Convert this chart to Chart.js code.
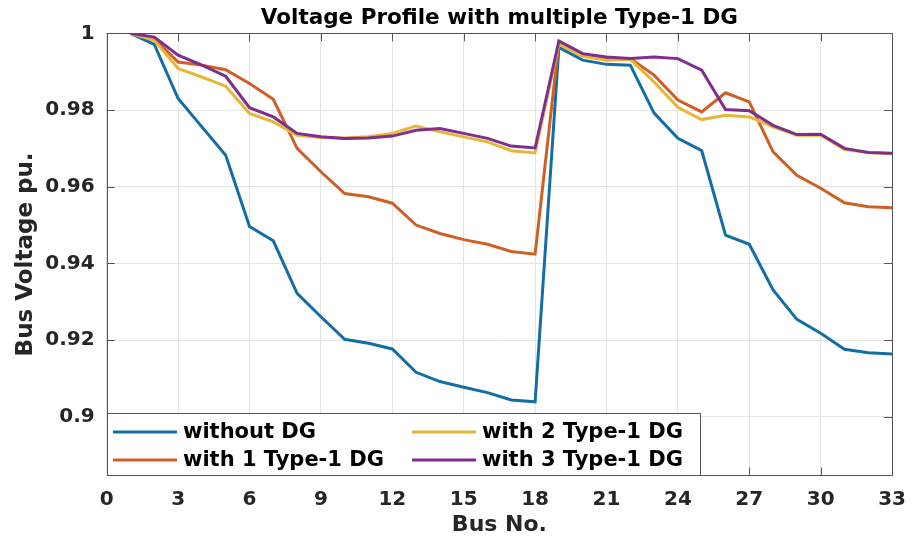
<!DOCTYPE html>
<html>
<head>
<meta charset="utf-8">
<script src="https://cdn.jsdelivr.net/npm/chart.js@4.4.1/dist/chart.umd.min.js"></script>
<style>
  html, body { margin: 0; padding: 0; background: #fff; }
  #wrap { width: 918px; height: 537px; position: relative; }
</style>
</head>
<body>
<div id="wrap"><canvas id="vp"></canvas></div>
<script>
// ===== DATA =====
const BUSES = [1, 2, 3, 4, 5, 6, 7, 8, 9, 10, 11, 12, 13, 14, 15, 16, 17,
  18, 19, 20, 21, 22, 23, 24, 25, 26, 27, 28, 29, 30, 31, 32, 33];

const WITHOUT_DG = [1.0, 0.9971, 0.983, 0.9756, 0.9682, 0.9496, 0.9459, 0.9322, 0.9261,
  0.9202, 0.9192, 0.9177, 0.9116, 0.9092, 0.9077, 0.9063, 0.9044, 0.9039,
  0.9963, 0.993, 0.9919, 0.9917, 0.9792, 0.9726, 0.9694, 0.9474, 0.945,
  0.9331, 0.9254, 0.9218, 0.9176, 0.9167, 0.9164];

const ONE_DG = [1.0, 0.9986, 0.9925, 0.9917, 0.9905, 0.9869, 0.9828, 0.970, 0.9639,
  0.9582, 0.9574, 0.9557, 0.950, 0.9478, 0.9462, 0.945, 0.9431, 0.9424,
  0.9977, 0.9945, 0.9935, 0.9934, 0.9891, 0.9826, 0.9795, 0.9845, 0.9821,
  0.9691, 0.963, 0.9596, 0.9558, 0.9548, 0.9545];

const TWO_DG = [1.0, 0.9982, 0.9908, 0.9886, 0.9862, 0.9791, 0.9769, 0.9734, 0.9728,
  0.9727, 0.973, 0.9739, 0.9758, 0.9743, 0.973, 0.9717, 0.9694, 0.9688,
  0.9972, 0.994, 0.993, 0.9932, 0.9873, 0.9807, 0.9775, 0.9786, 0.9782,
  0.9756, 0.9734, 0.9734, 0.9697, 0.9689, 0.9686];

const THREE_DG = [1.0, 0.999, 0.9943, 0.9917, 0.9888, 0.9806, 0.9782, 0.9739, 0.973,
  0.9726, 0.9727, 0.9732, 0.9747, 0.9752, 0.9739, 0.9726, 0.9706, 0.9701,
  0.998, 0.9947, 0.9938, 0.9934, 0.9938, 0.9934, 0.9904, 0.9801, 0.9798,
  0.976, 0.9736, 0.9737, 0.970, 0.9689, 0.9687];

const SERIES_NAMES = ['without DG', 'with 1 Type-1 DG', 'with 2 Type-1 DG', 'with 3 Type-1 DG'];
const X_TICKS = [0, 3, 6, 9, 12, 15, 18, 21, 24, 27, 30, 33];
const Y_TICKS = [0.9, 0.92, 0.94, 0.96, 0.98, 1.0];

const COLORS = ['#136ea6', '#cf5f27', '#e9b535', '#7e2f8e'];
const FONT = '"DejaVu Sans", sans-serif';

const toPts = vals => BUSES.map((b, i) => ({ x: b, y: vals[i] }));

// box + inward ticks on all four sides, like matlab "box on"
const boxPlugin = {
  id: 'box',
  afterDatasetsDraw(chart) {
    const { ctx, chartArea: a, scales } = chart;
    ctx.save();
    ctx.strokeStyle = '#555';
    ctx.lineWidth = 1;
    ctx.beginPath();
    const len = 8;
    X_TICKS.forEach(v => {
      const px = Math.round(scales.x.getPixelForValue(v)) + 0.5;
      ctx.moveTo(px, a.bottom); ctx.lineTo(px, a.bottom - len);
      ctx.moveTo(px, a.top); ctx.lineTo(px, a.top + len);
    });
    Y_TICKS.forEach(v => {
      const py = Math.round(scales.y.getPixelForValue(v)) + 0.5;
      ctx.moveTo(a.left, py); ctx.lineTo(a.left + len, py);
      ctx.moveTo(a.right, py); ctx.lineTo(a.right - len, py);
    });
    ctx.stroke();
    ctx.strokeRect(Math.round(a.left) + 0.5, Math.round(a.top) + 0.5,
      Math.round(a.right - a.left), Math.round(a.bottom - a.top));
    ctx.restore();
  },
};

// legend box sitting inside the plot, bottom-left, 2 columns
const legendPlugin = {
  id: 'insideLegend',
  afterDraw(chart) {
    const { ctx, chartArea: a } = chart;
    const ds = chart.data.datasets;
    const top = 413.5, right = 700;
    ctx.save();
    ctx.fillStyle = '#fff';
    ctx.fillRect(a.left, top, right - a.left, a.bottom - top);
    ctx.strokeStyle = '#555';
    ctx.lineWidth = 1;
    ctx.strokeRect(Math.round(a.left) + 0.5, top, right - Math.round(a.left), a.bottom - top);
    ctx.font = 'bold 21px ' + FONT;
    ctx.textBaseline = 'middle';
    const cols = [113, 412];
    const rows = [432, 460];
    // column-major like matlab NumColumns = 2
    ds.forEach((d, i) => {
      const cx = cols[Math.floor(i / 2)], cy = rows[i % 2];
      ctx.strokeStyle = d.borderColor;
      ctx.lineWidth = 3;
      ctx.beginPath();
      ctx.moveTo(cx, cy); ctx.lineTo(cx + 64, cy);
      ctx.stroke();
      ctx.fillStyle = '#000';
      ctx.fillText(d.label, cx + 70, cy + 1);
    });
    ctx.restore();
  },
};

new Chart(document.getElementById('vp'), {
  type: 'line',
  data: {
    datasets: [WITHOUT_DG, ONE_DG, TWO_DG, THREE_DG].map((vals, i) => ({
      label: SERIES_NAMES[i],
      data: toPts(vals),
      borderColor: COLORS[i],
      backgroundColor: COLORS[i],
      borderWidth: 3,
      pointRadius: 0,
      tension: 0,
      order: 3 - i,
    })),
  },
  options: {
    responsive: true, maintainAspectRatio: false,
    animation: false,
    layout: { padding: { left: 0, right: 15.7, top: 0, bottom: 0 } },
    plugins: {
      legend: { display: false },
      tooltip: { enabled: false },
      title: {
        display: true,
        fullSize: false,
        text: 'Voltage Profile with multiple Type-1 DG',
        color: '#000',
        font: { family: FONT, size: 21.5, weight: 'bold', lineHeight: 1.2 },
        padding: { top: 5.5, bottom: 2 },
      },
    },
    scales: {
      x: {
        type: 'linear', min: 0, max: 33,
        afterBuildTicks: s => { s.ticks = X_TICKS.map(v => ({ value: v })); },
        afterFit: s => { s.height = 61.5; },
        grid: { color: '#e4e4e4', drawTicks: false },
        border: { display: false },
        ticks: { color: '#262626', padding: 12, font: { family: FONT, size: 20, weight: 'bold' } },
        title: {
          display: true, text: 'Bus No.', color: '#262626',
          font: { family: FONT, size: 22, weight: 'bold', lineHeight: 1.1 },
          padding: { top: 0, bottom: 0 },
        },
      },
      y: {
        min: 0.8847, max: 1.0,
        afterBuildTicks: s => { s.ticks = Y_TICKS.map(v => ({ value: v })); },
        afterFit: s => { s.width = 106.7; },
        grid: { color: '#e4e4e4', drawTicks: false },
        border: { display: false },
        ticks: {
          color: '#262626', padding: 12,
          font: { family: FONT, size: 20, weight: 'bold' },
          callback: v => String(+v.toFixed(2)),
        },
        title: {
          display: true, text: 'Bus Voltage pu.', color: '#262626',
          font: { family: FONT, size: 23, weight: 'bold', lineHeight: 1.2 },
          padding: { top: 12, bottom: 0 },
        },
      },
    },
  },
  plugins: [boxPlugin, legendPlugin],
});
</script>
</body>
</html>
